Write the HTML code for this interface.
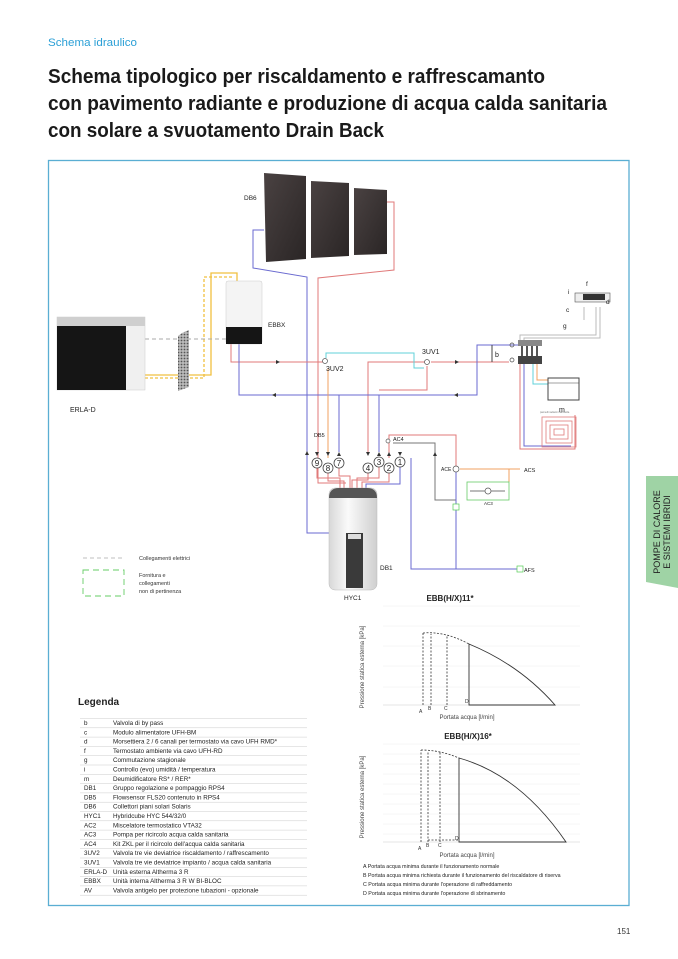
<!DOCTYPE html>
<html><head><meta charset="utf-8"><style>
html,body{margin:0;padding:0;background:#fff}
svg{display:block}
text{font-family:"Liberation Sans",sans-serif}
</style></head><body>
<svg width="678" height="959" viewBox="0 0 678 959" xmlns="http://www.w3.org/2000/svg">
<defs>
<linearGradient id="pan" x1="0" y1="0" x2="1" y2="1"><stop offset="0" stop-color="#4a4242"/><stop offset="1" stop-color="#2a2525"/></linearGradient>
<linearGradient id="tank" x1="0" y1="0" x2="1" y2="0"><stop offset="0" stop-color="#d8d8d8"/><stop offset=".4" stop-color="#fafafa"/><stop offset="1" stop-color="#cfcfcf"/></linearGradient>
<pattern id="hatch" width="3" height="3" patternUnits="userSpaceOnUse"><rect width="3" height="3" fill="#bbb"/><circle cx="1.5" cy="1.5" r="0.9" fill="#555"/></pattern>
</defs>

<!-- header -->
<text x="48" y="46" font-size="11" fill="#2a9fd6" textLength="89" lengthAdjust="spacingAndGlyphs">Schema idraulico</text>
<g font-size="20" font-weight="bold" fill="#1a1a1a">
<text x="48" y="83" textLength="497" lengthAdjust="spacingAndGlyphs">Schema tipologico per riscaldamento e raffrescamanto</text>
<text x="48" y="110" textLength="559" lengthAdjust="spacingAndGlyphs">con pavimento radiante e produzione di acqua calda sanitaria</text>
<text x="48" y="137" textLength="336" lengthAdjust="spacingAndGlyphs">con solare a svuotamento Drain Back</text>
</g>

<!-- frame -->
<rect x="48.5" y="160.5" width="580.5" height="745" fill="none" stroke="#5aaed3" stroke-width="1.3"/>

<!-- side tab -->
<path d="M646 476 H678 V588 L646 582 Z" fill="#9fd3a5"/>
<g transform="translate(663,532) rotate(-90)" font-size="9" fill="#222" text-anchor="middle">
<text x="0" y="-3">POMPE DI CALORE</text><text x="0" y="7">E SISTEMI IBRIDI</text></g>

<!-- solar panels -->
<path d="M264 173 L306 176 L306 259 L266 262 Z" fill="url(#pan)"/>
<path d="M311 181 L349 183 L349 256 L311 258 Z" fill="url(#pan)"/>
<path d="M354 188 L387 190 L387 254 L354 255 Z" fill="url(#pan)"/>
<text x="244" y="200" font-size="6.5" fill="#222">DB6</text>

<!-- pipes -->
<g fill="none" stroke-width="1">
<!-- solar blue -->
<path d="M264 230 H253 V268 L307 277 V533 H329" stroke="#6a6ad0"/>
<!-- solar red -->
<path d="M387 202 H394 V270 L318 278 V483 H346" stroke="#e07a7a"/>
<!-- yellow -->
<path d="M145 375 H211 V273 H237 V281" stroke="#f0c040" stroke-width="1.3"/>
<path d="M145 378 H204 V277 H232" stroke="#f0c040" stroke-width="1.3" stroke-dasharray="3,2"/>
<!-- electrical dashed -->
<path d="M145 339 H226" stroke="#aaa" stroke-dasharray="4,3"/>
<!-- EBBX red supply -->
<path d="M231 344 V362 H324" stroke="#e07a7a"/>
<path d="M431 362 H509" stroke="#e07a7a"/>
<path d="M427 362 H368 V452" stroke="#e07a7a"/>
<path d="M427 366 V390 H379" stroke="#e07a7a"/>
<!-- cyan -->
<path d="M326 358 V353 H414 V368 H424" stroke="#60d0d8"/>
<!-- blue return -->
<path d="M239 344 V395 H477 V345 H520" stroke="#6a6ad0"/>
<path d="M339 395 V452" stroke="#6a6ad0"/>
<path d="M379 395 V452" stroke="#6a6ad0"/>
<!-- orange 8 -->
<path d="M328 368 V458" stroke="#f0a060"/>
<!-- circles connections to tank -->
<path d="M317 468 V478 H340 V488 M328 473 V481 H344 V488 M339 468 V476 H350 V488 M368 473 V480 H352 V488 M379 467 V478 H357 V488 M389 473 V482 H362 V488" stroke="#e07a7a"/>
<path d="M400 467 V484 H366 V488" stroke="#6a6ad0"/>
<!-- AC4 red -->
<path d="M389 458 V435 H456 V466" stroke="#e07a7a"/>
<!-- grey recirc -->
<path d="M393 443 H435 V500 H456" stroke="#777"/>
<!-- ACS -->
<path d="M460 469 H509 V482 M509 469 H520" stroke="#f0a060"/>
<path d="M456 472 V569 M411 458 V569 H520" stroke="#6a6ad0"/>
<path d="M470 491 H505" stroke="#777"/>
<!-- manifold red to floor -->
<path d="M520 360 V449 H575 V415" stroke="#e07a7a"/>
<path d="M524 360 V446 H571" stroke="#6a6ad0"/>
<path d="M537 360 V380 H548" stroke="#f0a060"/>
<path d="M533 360 V384 H548" stroke="#60d0d8"/>
<!-- thermostat greys -->
<path d="M520 342 V335 H596 V307 M524 342 V338 H600 V307 M584 320 V307" stroke="#bbb"/>
<!-- bypass b -->
<path d="M492 345 V362" stroke="#444"/>
</g>

<!-- arrows -->
<g fill="#333">
<path d="M276 360 l4 2 -4 2z"/><path d="M455 360 l4 2 -4 2z"/>
<path d="M276 393 l-4 2 4 2z"/><path d="M458 393 l-4 2 4 2z"/>
<path d="M315 452 l2 4 2 -4z"/><path d="M326 452 l2 4 2 -4z"/><path d="M337 456 l2 -4 2 4z"/>
<path d="M366 452 l2 4 2 -4z"/><path d="M377 456 l2 -4 2 4z"/><path d="M387 456 l2 -4 2 4z"/><path d="M398 452 l2 4 2 -4z"/>
<path d="M305 455 l2 -4 2 4z"/><path d="M433 456 l2 -4 2 4z"/>
</g>

<!-- circles -->
<g fill="#fff" stroke="#444" stroke-width="0.8" font-size="8.5" text-anchor="middle">
<circle cx="317" cy="463" r="5"/><circle cx="328" cy="468" r="5"/><circle cx="339" cy="463" r="5"/>
<circle cx="368" cy="468" r="5"/><circle cx="379" cy="462" r="5"/><circle cx="389" cy="468" r="5"/><circle cx="400" cy="462" r="5"/>
</g>
<g font-size="8" fill="#222" text-anchor="middle">
<text x="317" y="466">9</text><text x="328" y="471">8</text><text x="339" y="466">7</text>
<text x="368" y="471">4</text><text x="379" y="465">3</text><text x="389" y="471">2</text><text x="400" y="465">1</text>
</g>

<!-- valves -->
<g fill="#fff" stroke="#555" stroke-width="0.7">
<circle cx="325" cy="361" r="2.5"/><circle cx="427" cy="362" r="2.5"/>
<circle cx="456" cy="469" r="3"/><circle cx="488" cy="491" r="3"/>
<rect x="453" y="504" width="6" height="6" stroke="#5c5"/><rect x="517" y="566" width="6" height="6" stroke="#5c5"/>
<circle cx="388" cy="441" r="2"/>
</g>
<rect x="467" y="482" width="42" height="18" fill="none" stroke="#6c6" stroke-width="0.8"/>
<g font-size="7" fill="#222">
<text x="326" y="371">3UV2</text><text x="422" y="354">3UV1</text>
<text x="314" y="437" font-size="5.5">DB5</text><text x="393" y="441" font-size="5.5">AC4</text>
<text x="441" y="471" font-size="5">ACE</text><text x="484" y="505" font-size="4.5">AC3</text>
<text x="524" y="472" font-size="5.5">ACS</text><text x="524" y="572" font-size="5.5">AFS</text>
<text x="495" y="357" font-size="7">b</text>
</g>

<!-- ERLA-D -->
<rect x="57" y="317" width="88" height="73" fill="#f0f0f0" stroke="#ccc" stroke-width="0.5"/>
<rect x="57" y="317" width="88" height="9" fill="#cfcfcf"/>
<rect x="57" y="326" width="69" height="64" fill="#151515"/>
<text x="70" y="412" font-size="7" fill="#222">ERLA-D</text>
<!-- grille -->
<path d="M182 333 L189 330 L189 387 L178 391 L178 336 Z" fill="url(#hatch)"/>
<!-- EBBX -->
<rect x="226" y="281" width="36" height="63" rx="2" fill="#f4f4f4" stroke="#ccc" stroke-width="0.5"/>
<rect x="226" y="327" width="36" height="17" fill="#151515"/>
<text x="268" y="327" font-size="6.5" fill="#222">EBBX</text>

<!-- HYC1 -->
<rect x="329" y="488" width="48" height="102" rx="6" fill="url(#tank)" stroke="#bbb" stroke-width="0.5"/>
<path d="M329 498 Q329 488 339 488 H367 Q377 488 377 498 Z" fill="#555"/>
<rect x="346" y="533" width="17" height="55" fill="#3a3a3a"/>
<rect x="348" y="534" width="13" height="5" fill="#ddd"/>
<text x="344" y="600" font-size="6.5" fill="#222">HYC1</text>
<text x="380" y="570" font-size="6.5" fill="#222">DB1</text>

<!-- manifold -->
<rect x="518" y="340" width="24" height="6" fill="#888"/>
<rect x="518" y="356" width="24" height="8" fill="#444"/>
<g fill="#555"><rect x="521" y="346" width="2" height="10"/><rect x="526" y="346" width="2" height="10"/><rect x="531" y="346" width="2" height="10"/><rect x="536" y="346" width="2" height="10"/></g>
<circle cx="512" cy="345" r="2" fill="none" stroke="#444" stroke-width="0.7"/>
<circle cx="512" cy="360" r="2" fill="none" stroke="#444" stroke-width="0.7"/>
<!-- m -->
<rect x="548" y="378" width="31" height="22" fill="#fff" stroke="#444" stroke-width="1"/>
<path d="M548 383 H579" stroke="#444" stroke-width="0.6"/>
<text x="559" y="412" font-size="7" fill="#222">m</text>
<!-- floor heating -->
<text x="540" y="413" font-size="2.5" fill="#777">pannelli radianti mansarda</text>
<rect x="542" y="417" width="34" height="30" fill="none" stroke="#e07a7a" stroke-width="0.8"/>
<rect x="546" y="421" width="26" height="22" fill="none" stroke="#e07a7a" stroke-width="0.8"/>
<rect x="550" y="425" width="18" height="14" fill="none" stroke="#e07a7a" stroke-width="0.8"/>
<rect x="554" y="429" width="10" height="6" fill="none" stroke="#e07a7a" stroke-width="0.8"/>
<!-- thermostat -->
<rect x="575" y="293" width="35" height="9" fill="#eee" stroke="#555" stroke-width="0.6"/>
<rect x="583" y="294" width="22" height="6" fill="#333"/>
<g font-size="6.5" fill="#222"><text x="568" y="294">i</text><text x="586" y="286">f</text><text x="606" y="304">d</text><text x="566" y="312">c</text><text x="563" y="328">g</text></g>

<!-- diagram legend -->
<path d="M83 558 H124" stroke="#aaa" stroke-dasharray="4,3" stroke-width="0.8"/>
<text x="139" y="560" font-size="5.5" fill="#333">Collegamenti elettrici</text>
<rect x="83" y="570" width="41" height="26" fill="none" stroke="#6c6" stroke-width="0.9" stroke-dasharray="6,4"/>
<g font-size="5.5" fill="#333"><text x="139" y="577">Fornitura e</text><text x="139" y="585">collegamenti</text><text x="139" y="593">non di pertinenza</text></g>

<!-- Legenda -->
<text x="78" y="705" font-size="10" font-weight="bold" fill="#222">Legenda</text>
<g font-size="6.3" fill="#222">
<text x="84" y="725">b</text><text x="113" y="725">Valvola di by pass</text>
<text x="84" y="734.3">c</text><text x="113" y="734.3">Modulo alimentatore UFH-BM</text>
<text x="84" y="743.6">d</text><text x="113" y="743.6">Morsettiera 2 / 6 canali per termostato via cavo UFH RMD*</text>
<text x="84" y="752.9">f</text><text x="113" y="752.9">Termostato ambiente via cavo UFH-RD</text>
<text x="84" y="762.2">g</text><text x="113" y="762.2">Commutazione stagionale</text>
<text x="84" y="771.5">i</text><text x="113" y="771.5">Controllo (evo) umidità / temperatura</text>
<text x="84" y="780.8">m</text><text x="113" y="780.8">Deumidificatore RS* / RER*</text>
<text x="84" y="790.1">DB1</text><text x="113" y="790.1">Gruppo regolazione e pompaggio RPS4</text>
<text x="84" y="799.4">DB5</text><text x="113" y="799.4">Flowsensor FLS20 contenuto in RPS4</text>
<text x="84" y="808.7">DB6</text><text x="113" y="808.7">Collettori piani solari Solaris</text>
<text x="84" y="818">HYC1</text><text x="113" y="818">Hybridcube HYC 544/32/0</text>
<text x="84" y="827.3">AC2</text><text x="113" y="827.3">Miscelatore termostatico VTA32</text>
<text x="84" y="836.6">AC3</text><text x="113" y="836.6">Pompa per ricircolo acqua calda sanitaria</text>
<text x="84" y="845.9">AC4</text><text x="113" y="845.9">Kit ZKL per il ricircolo dell'acqua calda sanitaria</text>
<text x="84" y="855.2">3UV2</text><text x="113" y="855.2">Valvola tre vie deviatrice riscaldamento /  raffrescamento</text>
<text x="84" y="864.5">3UV1</text><text x="113" y="864.5">Valvola tre vie deviatrice impianto /  acqua calda sanitaria</text>
<text x="84" y="873.8">ERLA-D</text><text x="113" y="873.8">Unità esterna Altherma 3 R</text>
<text x="84" y="883.1">EBBX</text><text x="113" y="883.1">Unità interna Altherma 3 R W BI-BLOC</text>
<text x="84" y="892.4">AV</text><text x="113" y="892.4">Valvola antigelo per protezione tubazioni - opzionale</text>
</g>
<g stroke="#ccc" stroke-width="0.5">
<path d="M80 718.5H307M80 727.8H307M80 737.1H307M80 746.4H307M80 755.7H307M80 765H307M80 774.3H307M80 783.6H307M80 792.9H307M80 802.2H307M80 811.5H307M80 820.8H307M80 830.1H307M80 839.4H307M80 848.7H307M80 858H307M80 867.3H307M80 876.6H307M80 885.9H307M80 895.2H307"/>
</g>

<!-- chart 1 -->
<text x="450" y="601" font-size="8" font-weight="bold" fill="#222" text-anchor="middle">EBB(H/X)11*</text>
<g stroke="#eee" stroke-width="0.5"><path d="M383 606H580M383 626H580M383 646H580M383 666H580M383 687H580"/></g>
<path d="M383 705H580" stroke="#ccc" stroke-width="0.5"/>
<g fill="none" stroke="#333" stroke-width="0.8" stroke-dasharray="2,1.5">
<path d="M423 705V633M431 705V634M447 705V636"/><path d="M423 633 Q445 631 469 644"/>
</g>
<path d="M469 644 Q520 665 555 705 H469 Z" fill="none" stroke="#333" stroke-width="0.9"/>
<g font-size="5" fill="#333"><text x="419" y="713">A</text><text x="428" y="710">B</text><text x="444" y="710">C</text><text x="465" y="703">D</text></g>
<text x="467" y="719" font-size="6" fill="#444" text-anchor="middle">Portata acqua [l/min]</text>
<text transform="translate(364,667) rotate(-90)" font-size="6" fill="#444" text-anchor="middle">Pressione statica esterna [kPa]</text>

<!-- chart 2 -->
<text x="468" y="739" font-size="8" font-weight="bold" fill="#222" text-anchor="middle">EBB(H/X)16*</text>
<g stroke="#eee" stroke-width="0.5"><path d="M383 744H580M383 754H580M383 764H580M383 774H580M383 784H580M383 794H580M383 804H580M383 814H580M383 824H580M383 834H580"/></g>
<path d="M383 842H580" stroke="#ccc" stroke-width="0.5"/>
<g fill="none" stroke="#333" stroke-width="0.8" stroke-dasharray="2,1.5">
<path d="M421 842V750M428 842V751M440 842V752M428 840H459"/><path d="M421 750 Q440 750 459 758"/>
</g>
<path d="M459 758 Q520 775 566 842 H459 Z" fill="none" stroke="#333" stroke-width="0.9"/>
<g font-size="5" fill="#333"><text x="418" y="850">A</text><text x="426" y="847">B</text><text x="438" y="847">C</text><text x="455" y="840">D</text></g>
<text x="467" y="857" font-size="6" fill="#444" text-anchor="middle">Portata acqua [l/min]</text>
<text transform="translate(364,797) rotate(-90)" font-size="6" fill="#444" text-anchor="middle">Pressione statica esterna [kPa]</text>

<g font-size="5.3" fill="#222">
<text x="363" y="868">A  Portata acqua minima durante il funzionamento normale</text>
<text x="363" y="877">B  Portata acqua minima richiesta durante il funzionamento del riscaldatore di riserva</text>
<text x="363" y="886">C  Portata acqua minima durante l'operazione di raffreddamento</text>
<text x="363" y="895">D  Portata acqua minima durante l'operazione di sbrinamento</text>
</g>

<text x="617" y="934" font-size="8" fill="#333">151</text>
</svg>
</body></html>
